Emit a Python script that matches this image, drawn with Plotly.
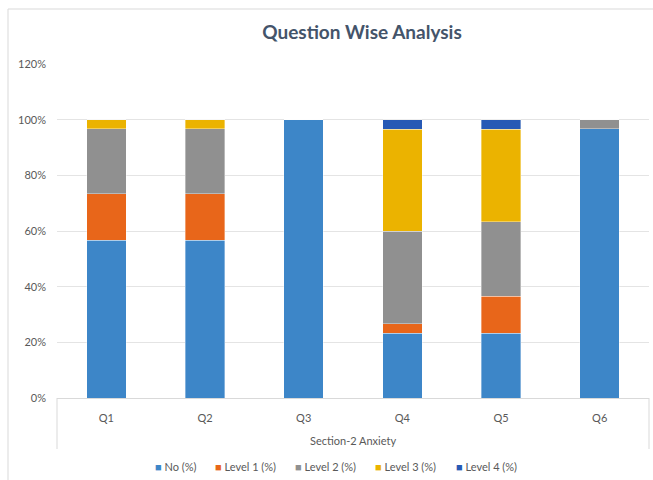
import plotly.graph_objects as go

categories = ["Q1", "Q2", "Q3", "Q4", "Q5", "Q6"]
no_pct = [56.7, 56.7, 100.0, 23.3, 23.3, 96.7]
level1_pct = [16.7, 16.7, 0.0, 3.3, 13.3, 0.0]
level2_pct = [23.3, 23.3, 0.0, 33.3, 26.7, 3.3]
level3_pct = [3.3, 3.3, 0.0, 36.7, 33.3, 0.0]
level4_pct = [0.0, 0.0, 0.0, 3.3, 3.3, 0.0]

series_names = ["No (%)", "Level 1 (%)", "Level 2 (%)", "Level 3 (%)", "Level 4 (%)"]
series_values = [no_pct, level1_pct, level2_pct, level3_pct, level4_pct]
series_colors = ["#3D86C8", "#E8661A", "#909090", "#EBB300", "#2759B5"]
legend_left_px = [153, 213, 293, 373, 454]

FONT = "Lato"
TXT = "#595959"

fig = go.Figure()
for name, vals, col in zip(series_names, series_values, series_colors):
    fig.add_trace(go.Bar(
        x=categories, y=vals, name=name,
        marker=dict(color=col, line=dict(color="rgba(255,255,255,0.6)", width=0.6)),
    ))

W, H = 653, 480
L, R, T, B = 57, 4, 64, 82
pw = W - L - R
ph = H - T - B

def px2x(px):
    return (px - L) / pw

def py2y(py):
    return (H - B - py) / ph

shapes = [
    dict(type="rect", xref="paper", yref="paper",
         x0=px2x(8), x1=px2x(670), y0=py2y(495), y1=py2y(9),
         line=dict(color="#D9D9D9", width=1), fillcolor="rgba(0,0,0,0)", layer="below"),
    dict(type="line", xref="paper", yref="paper", x0=0, x1=0, y0=0, y1=py2y(449),
         line=dict(color="#D9D9D9", width=1)),
    dict(type="line", xref="paper", yref="paper", x0=1, x1=1, y0=0, y1=py2y(449),
         line=dict(color="#D9D9D9", width=1)),
]

annotations = [
    dict(text="Section-2 Anxiety", xref="paper", yref="paper",
         x=px2x(353), y=py2y(440), xanchor="center", yanchor="middle",
         showarrow=False, font=dict(family=FONT, size=11, color=TXT)),
]
for name, col, lx in zip(series_names, series_colors, legend_left_px):
    annotations.append(dict(
        text=f"<span style='color:{col}'>■</span> {name}",
        xref="paper", yref="paper", x=px2x(lx), y=py2y(466),
        xanchor="left", yanchor="middle", showarrow=False,
        font=dict(family=FONT, size=11, color=TXT)))

fig.update_layout(
    width=W, height=H,
    margin=dict(l=L, r=R, t=T, b=B, autoexpand=False),
    barmode="stack",
    bargap=0.6,
    paper_bgcolor="white",
    plot_bgcolor="white",
    font=dict(family=FONT, color=TXT, size=11),
    title=dict(text="<b>Question Wise Analysis</b>", x=362 / W,
               xanchor="center", y=1 - 32 / H, yanchor="middle",
               font=dict(family=FONT, size=19, color="#44546A")),
    xaxis=dict(
        automargin=False,
        showgrid=False, showline=True, linecolor="#D9D9D9", linewidth=1,
        ticks="", tickfont=dict(size=11, color=TXT), ticklabelstandoff=10,
    ),
    yaxis=dict(
        automargin=False,
        range=[0, 120], dtick=20, ticksuffix="%",
        showgrid=True, gridcolor="#E4E4E4", gridwidth=1,
        zeroline=False, showline=False, ticks="",
        tickfont=dict(size=11, color=TXT), ticklabelstandoff=10,
    ),
    shapes=shapes,
    annotations=annotations,
    showlegend=False,
)

fig.write_html("out.html")
